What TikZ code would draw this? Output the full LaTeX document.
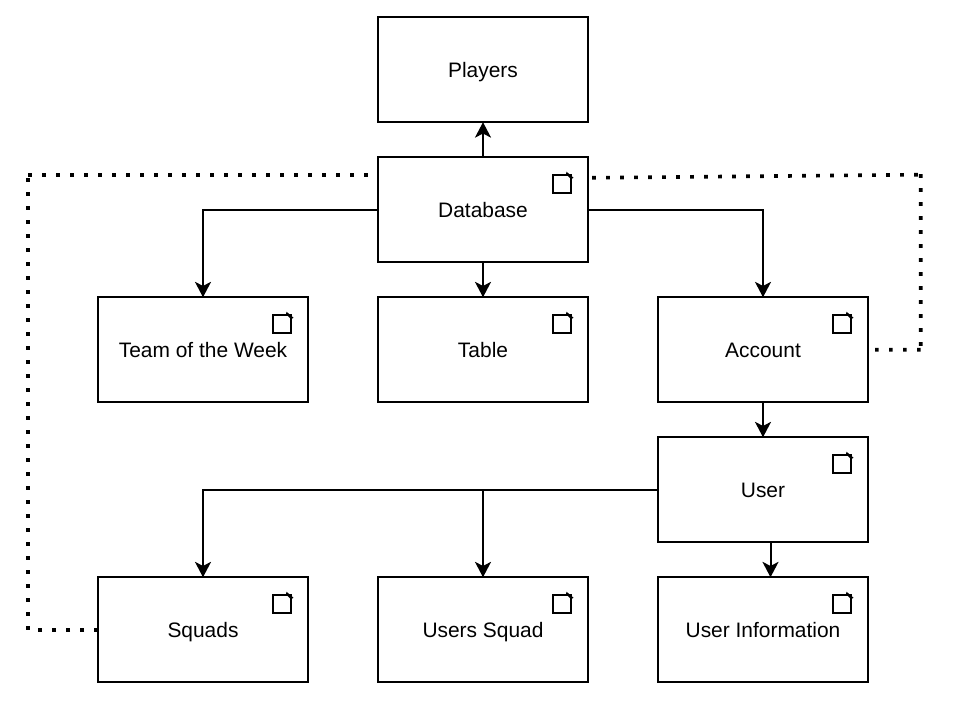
\documentclass[tikz,border=0pt]{standalone}
\usepackage{fontspec}
\setmainfont{Liberation Sans}
\usetikzlibrary{arrows.meta,calc}
\tikzset{
  box/.style={draw=black,line width=1.5pt,fill=white,minimum width=157.5pt,minimum height=78.75pt,inner sep=0pt,outer sep=0pt,font=\fontsize{15.7}{18}\selectfont,text height=13pt,text depth=1.7pt},
  conn/.style={line width=1.5pt,draw=black,-{Stealth[length=11.5pt,width=12pt,inset=3pt]}},
  dots/.style={line width=2.75pt,draw=black,dash pattern=on 2.75pt off 7.75pt},
  icon/.pic={
    \draw[line width=1.5pt,black] (-35,17.5) rectangle (-17,35.5);
    \fill[black] (-21.5,14.5) -- (-14.5,20.5) -- (-17,22) -- (-22,17) -- cycle;
  }
}
\begin{document}
\begin{tikzpicture}[x=0.75pt,y=-0.75pt]
\useasboundingbox (0,0) rectangle (963,702);
\fill[white] (0,0) rectangle (963,702);
\node[box] (players) at (483,69.75) {Players};
\node[box] (database) at (483,209.75) {Database};
\node[box] (week) at (203,349.75) {Team of the Week};
\node[box] (table) at (483,349.75) {Table};
\node[box] (account) at (763,349.75) {Account};
\node[box] (user) at (763,489.75) {User};
\node[box] (squads) at (203,629.75) {Squads};
\node[box] (usquad) at (483,629.75) {Users Squad};
\node[box] (uinfo) at (763,629.75) {User Information};
\foreach \n in {database,week,table,account,user,squads,usquad,uinfo}
  \pic at (\n.north east) {icon};
\draw[conn] (database.north) -- (players.south);
\draw[conn] (database.south) -- (table.north);
\draw[conn] (database.west) -| (week.north);
\draw[conn] (database.east) -| (account.north);
\draw[conn] (account.south) -- (user.north);
\draw[conn] (user.west) -| (squads.north);
\draw[conn] (user.west) -| (usquad.north);
\draw[conn] ($(user.south)+(7.5,0)$) -- ($(uinfo.north)+(7.5,0)$);
% left dotted route: three runs, each with its own dot phase
\coordinate (la) at (367.8,174.7);
\coordinate (lb) at (28,174.7);
\coordinate (lc) at (28.3,178.2);
\coordinate (ld) at (28.3,630);
\coordinate (le) at (38.4,629.75);
\draw[dots] (la) -- (lb) (lc) -- (ld) (squads.west) -- (le);
% right dotted route
\coordinate (ra) at (592.2,177.8);
\coordinate (rb) at (918,174.7);
\coordinate (rc) at (920.7,174.2);
\coordinate (rd) at (920.7,346);
\coordinate (re) at (875,349.7);
\coordinate (rf) at (921,349.7);
\draw[dots] (ra) -- (rb) (rc) -- (rd) (re) -- (rf);
\end{tikzpicture}
\end{document}
